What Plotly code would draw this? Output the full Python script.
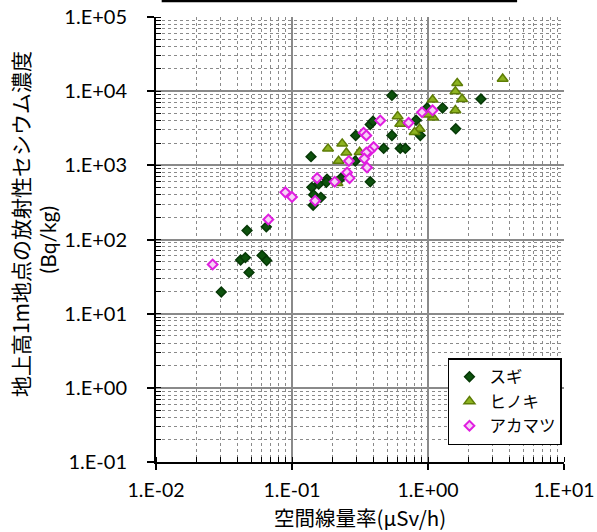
import plotly.graph_objects as go

# ---- data ----
sugi_x = [0.0302, 0.0419, 0.0454, 0.0467, 0.0483, 0.0602, 0.0651, 0.0647, 0.138, 0.140,
          0.144, 0.163, 0.143, 0.157, 0.181, 0.179, 0.229, 0.292, 0.294, 0.376,
          0.394, 0.472, 0.543, 0.625, 0.681, 0.376, 0.543, 0.817, 0.878, 0.984,
          1.28, 1.60, 2.45]
sugi_y = [19.6, 53, 57, 132, 36, 61, 52, 148, 1310, 505,
          400, 370, 290, 558, 650, 590, 670, 1145, 2530, 3550,
          3930, 1690, 2530, 1690, 1690, 600, 8760, 4050, 2530, 5940,
          5940, 3110, 7840]

hinoki_x = [0.184, 0.234, 0.251, 0.220, 0.314, 0.216, 0.598, 0.625, 3.54, 1.64,
            1.59, 1.78, 1.59, 1.08, 1.09, 1.01, 0.867, 0.797]
hinoki_y = [1680, 1960, 1480, 1145, 1510, 576, 4585, 3630, 14660, 12840,
            9910, 7840, 5520, 7670, 4400, 4830, 3110, 2800]

akamatsu_x = [0.0261, 0.067, 0.0893, 0.100, 0.148, 0.153, 0.206, 0.254, 0.265, 0.262,
              0.336, 0.352, 0.446, 0.398, 0.372, 0.352, 0.340, 0.356, 0.72, 0.904, 1.08]
akamatsu_y = [46, 186, 432, 374, 333, 672, 600, 801, 672, 1145,
              2748, 2529, 4018, 1763, 1560, 1484, 1233, 935, 3740, 5190, 5520]

series_names = ["スギ", "ヒノキ", "アカマツ"]

x_tickvals = [0.01, 0.1, 1, 10]
x_ticktext = ["1.E-02", "1.E-01", "1.E+00", "1.E+01"]
y_tickvals = [0.1, 1, 10, 100, 1000, 10000, 100000]
y_ticktext = ["1.E-01", "1.E+00", "1.E+01", "1.E+02", "1.E+03", "1.E+04", "1.E+05"]

x_title = "空間線量率(µSv/h)"
y_title_1 = "地上高1m地点の放射性セシウム濃度"
y_title_2 = "(Bq/kg)"

LAT = "Lato, 'Noto Sans CJK JP', sans-serif"
JP = "'Noto Sans CJK JP', sans-serif"

fig = go.Figure()
fig.add_trace(go.Scatter(
    x=sugi_x, y=sugi_y, mode="markers", name=series_names[0],
    marker=dict(symbol="diamond", size=7.5, color="#0d520d",
                line=dict(color="#063806", width=1.5))))
fig.add_trace(go.Scatter(
    x=hinoki_x, y=hinoki_y, mode="markers", name=series_names[1],
    marker=dict(symbol="triangle-up", size=9.5, color="#8db320",
                line=dict(color="#5e7d06", width=1.5))))
fig.add_trace(go.Scatter(
    x=akamatsu_x, y=akamatsu_y, mode="markers", name=series_names[2],
    marker=dict(symbol="diamond", size=7.5, color="#f6d2f6",
                line=dict(color="#e01ee0", width=2))))

grid_major = "#8a8a8a"
grid_minor = "#8a8a8a"

fig.update_xaxes(
    type="log", range=[-2, 1], automargin=False,
    tickvals=x_tickvals, ticktext=x_ticktext,
    tickfont=dict(family=LAT, size=19.5, color="#000"),
    showgrid=True, gridcolor=grid_major, gridwidth=2,
    showline=True, linecolor="#000", linewidth=2,
    ticks="outside", ticklen=6, tickwidth=2, tickcolor="#000",
    minor=dict(dtick="D1", showgrid=True, gridcolor=grid_minor, griddash="dot",
               gridwidth=1.3, ticks="inside", ticklen=5, tickcolor="#000", tickwidth=1),
    zeroline=False, ticklabelstandoff=4,
)
fig.update_yaxes(
    type="log", range=[-1, 5], automargin=False,
    tickvals=y_tickvals, ticktext=y_ticktext,
    tickfont=dict(family=LAT, size=20, color="#000"),
    showgrid=True, gridcolor=grid_major, gridwidth=2,
    showline=True, linecolor="#000", linewidth=2,
    ticks="outside", ticklen=7, tickwidth=2, tickcolor="#000",
    minor=dict(dtick="D1", showgrid=True, gridcolor=grid_minor, griddash="dot",
               gridwidth=1.3, ticks="inside", ticklen=5, tickcolor="#000", tickwidth=1),
    zeroline=False, ticklabelstandoff=16,
)

fig.update_layout(
    width=597, height=532,
    margin=dict(l=156, r=33, t=17, b=70),
    paper_bgcolor="white", plot_bgcolor="white",
    showlegend=True,
    legend=dict(x=0.995, y=0.038, xanchor="right", yanchor="bottom",
                bgcolor="white", bordercolor="#000", borderwidth=1.5,
                font=dict(family=JP, size=16.5, color="#000"),
                itemwidth=30, tracegroupgap=0),
    annotations=[
        dict(text=x_title, xref="paper", yref="paper", x=0.5, y=-0.124,
             xanchor="center", yanchor="middle", showarrow=False,
             font=dict(family=JP, size=20.5, color="#000")),
        dict(text=y_title_1, xref="paper", yref="paper", x=-0.333, y=0.535,
             xanchor="center", yanchor="middle", textangle=-90, showarrow=False,
             font=dict(family=JP, size=21, color="#000")),
        dict(text=y_title_2, xref="paper", yref="paper", x=-0.265, y=0.5,
             xanchor="center", yanchor="middle", textangle=-90, showarrow=False,
             font=dict(family=LAT, size=21, color="#000")),
    ],
    shapes=[
        dict(type="rect", xref="paper", yref="paper", x0=0.017, x1=0.882,
             y0=1.036, y1=1.2, line=dict(color="#000", width=2.5), fillcolor="rgba(0,0,0,0)"),
    ],
)

fig.write_html("out.html",
               config={"displayModeBar": False},
               post_script="document.body.style.margin='0px';document.body.style.overflow='hidden';")
